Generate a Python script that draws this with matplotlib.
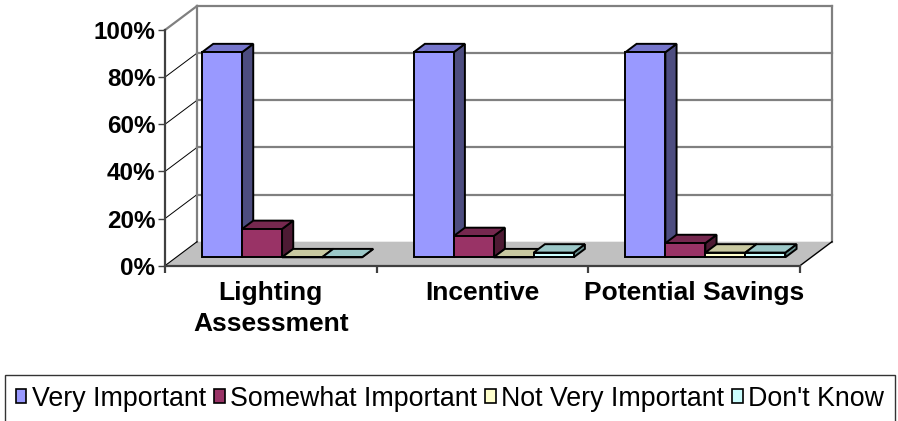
import matplotlib
matplotlib.use("Agg")
import matplotlib.pyplot as plt
from matplotlib.patches import Polygon, Patch

plt.rcParams["font.family"] = ["Liberation Sans", "DejaVu Sans"]

# ── Data ──────────────────────────────────────────────────────────────────────
categories = ["Lighting\nAssessment", "Incentive", "Potential Savings"]
series = ["Very Important", "Somewhat Important", "Not Very Important", "Don't Know"]
very_important = [87, 87, 87]
somewhat_important = [12, 9, 6]
not_very_important = [0, 0, 2]
dont_know = [0, 2, 2]
values = [very_important, somewhat_important, not_very_important, dont_know]
yticks = [0, 20, 40, 60, 80, 100]
ytick_labels = ["0%", "20%", "40%", "60%", "80%", "100%"]

# front / top / side shades, Excel style
FRONT = ["#9999FF", "#993366", "#FFFFCC", "#CCFFFF"]
TOP = ["#7676CC", "#76284F", "#C9C9A1", "#9CC8C8"]
SIDE = ["#4D4D80", "#4D1A33", "#808066", "#6A8F8F"]
GRID = "#808080"
FLOOR = "#C0C0C0"

W, H, DPI = 898, 421, 100
fig = plt.figure(figsize=(W / DPI, H / DPI), dpi=DPI, facecolor="white")

# axes placed in pixel terms: front plane x 165..800 (3 cats), y 265.7 (0%) .. 30 (100%)
px_left, px_right, px_top, px_bot = 165, 836, 3, 265.7
ax = fig.add_axes([px_left / W, 1 - px_bot / H, (px_right - px_left) / W, (px_bot - px_top) / H])
ppx = (800 - 165) / 3.0          # px per category
ppy = (265.7 - 30) / 100.0       # px per percent
ax.set_xlim(0, (px_right - px_left) / ppx)
ax.set_ylim(0, (px_bot - px_top) / ppy)
ax.patch.set_alpha(0)

# depth of the floor / walls, in data units
DX, DY = 32 / ppx, 24 / ppy
ncat = len(categories)

# floor
ax.add_patch(Polygon([(0, 0), (ncat, 0), (ncat + DX, DY), (DX, DY)], closed=True,
                     facecolor=FLOOR, edgecolor="none", zorder=1))
ax.plot([ncat, ncat + DX], [0, DY], color="black", lw=1, zorder=2, clip_on=False)
ax.plot([0, DX], [0, DY], color="black", lw=0.8, zorder=2, clip_on=False)

# back wall gridlines + side diagonals
for v in yticks[1:]:
    ax.plot([DX, ncat + DX], [v + DY, v + DY], color=GRID, lw=1.6, zorder=1, clip_on=False)
    ax.plot([0, DX], [v, v + DY], color=GRID if v == 100 else "black",
            lw=1.6 if v == 100 else 0.7, zorder=1, clip_on=False)
ax.plot([DX, DX], [DY, 100 + DY], color=GRID, lw=1.6, zorder=1, clip_on=False)
ax.plot([ncat + DX, ncat + DX], [DY, 100 + DY], color=GRID, lw=1.6, zorder=1, clip_on=False)

# bars (Excel 3-D clustered column, gap width 150%)
nser = len(series)
bw = 40 / ppx
side = (1 - nser * bw) / 2
f0, f1 = 0.35, 0.70
fx, fy = f0 * DX, f0 * DY
bdx, bdy = (f1 - f0) * DX, (f1 - f0) * DY
z = 3
for i in range(ncat):
    for j in range(nser):
        v = values[j][i]
        x0 = i + side + j * bw + fx
        y0 = fy
        x1, y1 = x0 + bw, y0 + v
        kw = dict(closed=True, edgecolor="black", lw=1.4, joinstyle="miter", zorder=z)
        ax.add_patch(Polygon([(x1, y0), (x1 + bdx, y0 + bdy), (x1 + bdx, y1 + bdy), (x1, y1)],
                             facecolor=SIDE[j], **kw))
        ax.add_patch(Polygon([(x0, y1), (x1, y1), (x1 + bdx, y1 + bdy), (x0 + bdx, y1 + bdy)],
                             facecolor=TOP[j], **kw))
        ax.add_patch(Polygon([(x0, y0), (x1, y0), (x1, y1), (x0, y1)],
                             facecolor=FRONT[j], **kw))
        z += 1

# axes, ticks, labels
for s in ["top", "right"]:
    ax.spines[s].set_visible(False)
for s in ["left", "bottom"]:
    ax.spines[s].set_color("#404040")
    ax.spines[s].set_linewidth(1.6)
    ax.spines[s].set_zorder(2)
ax.spines["left"].set_bounds(0, 100)
ax.spines["bottom"].set_bounds(0, ncat)

ax.set_yticks(yticks)
ax.set_yticklabels(ytick_labels, fontsize=17.5, fontweight="bold")
ax.tick_params(axis="y", length=5, width=1, color="#404040", pad=2)

ax.set_xticks(range(ncat + 1))
ax.set_xticklabels([])
ax.tick_params(axis="x", which="major", length=5, width=1.6, color="#404040")
ax.set_xticks([i + 0.5 for i in range(ncat)], minor=True)
ax.set_xticklabels(categories, minor=True, fontsize=19, fontweight="bold", linespacing=1.35)
ax.tick_params(axis="x", which="minor", length=0, pad=11)

# legend (frame runs off the bottom edge, as in the source)
handles = [Patch(facecolor=FRONT[j], edgecolor="black", lw=1.2) for j in range(nser)]
leg = fig.legend(handles, series, loc="upper left", bbox_to_anchor=(5 / W, 1 - 375 / H),
                 ncol=4, fontsize=19.3, frameon=True, fancybox=False, borderpad=0.4,
                 handlelength=0.4, handleheight=0.4, handletextpad=0.2,
                 columnspacing=0.3, borderaxespad=0)
leg.get_frame().set_edgecolor("black")
leg.get_frame().set_linewidth(1)

fig.savefig("out.png", dpi=DPI, facecolor="white")
